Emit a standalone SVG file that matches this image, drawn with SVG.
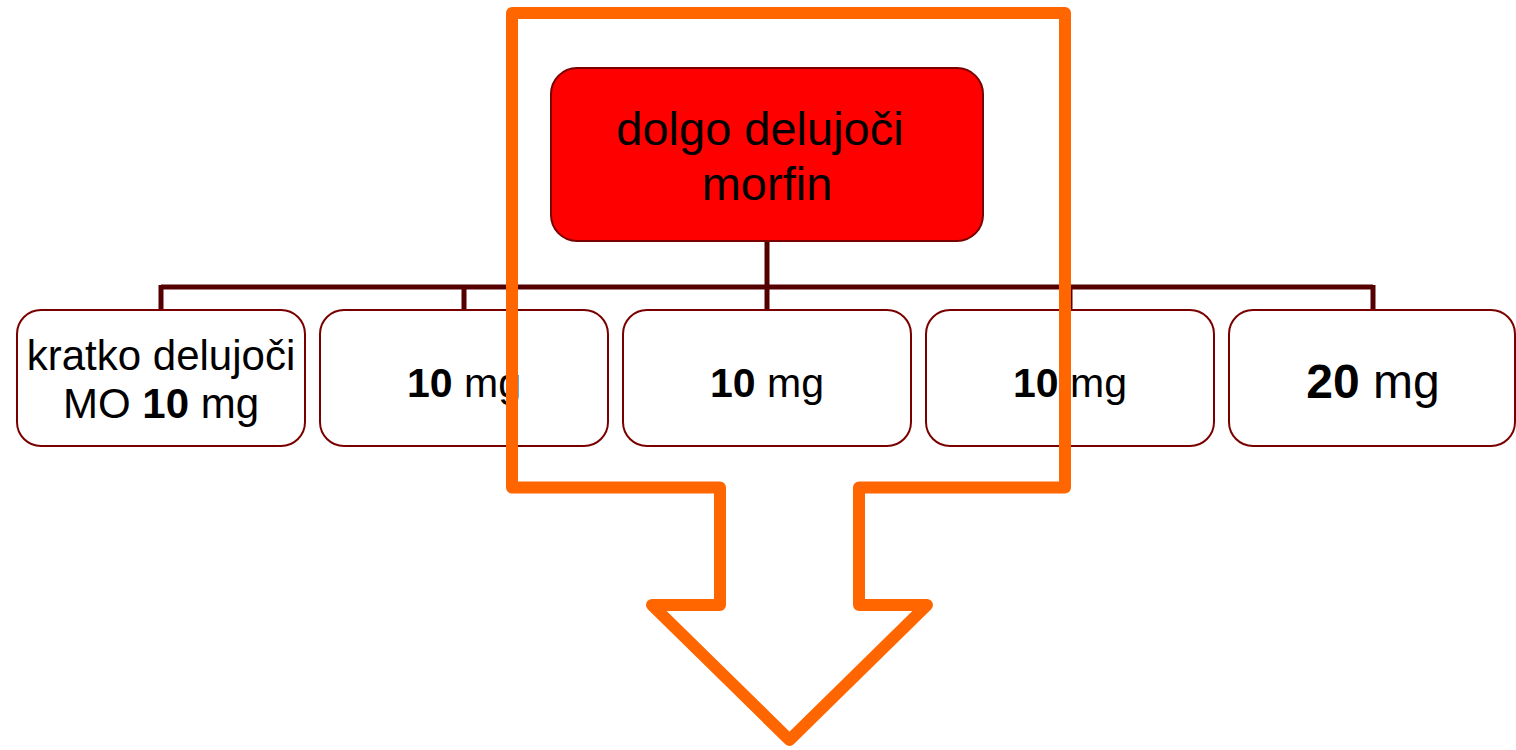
<svg xmlns="http://www.w3.org/2000/svg" width="1516" height="750" viewBox="0 0 1516 750">
<style>
.box{fill:#ffffff;stroke:#7a0000;stroke-width:2}
.top{fill:#ff0000;stroke:#7a0000;stroke-width:2}
.conn{fill:none;stroke:#550000;stroke-width:5}
.t{font-family:"Liberation Sans",Arial,sans-serif;fill:#000;text-anchor:middle}
.b{font-weight:bold}
.arrow{fill:none;stroke:#ff6600;stroke-width:12;stroke-linejoin:round}
</style>
<rect width="1516" height="750" fill="#ffffff"/>
<g id="connectors">
<path class="conn" d="M767 241 V287 M161 287 H1373 M161 285 V310 M464 285 V310 M767 285 V310 M1070 285 V310 M1373 285 V310"/>
</g>
<g id="node-top">
<rect class="top" x="551" y="68" width="432" height="173" rx="26"/>
<text class="t" x="760" y="145" font-size="47">dolgo delujoči</text>
<text class="t" x="767" y="200" font-size="47">morfin</text>
</g>
<g id="node-1">
<rect class="box" x="17" y="310" width="288" height="136" rx="24"/>
<text class="t" x="161" y="370" font-size="42">kratko delujoči</text>
<text class="t" x="161" y="418" font-size="42">MO <tspan class="b">10</tspan> mg</text>
</g>
<g id="node-2">
<rect class="box" x="320" y="310" width="288" height="136" rx="24"/>
<text class="t" x="464" y="397" font-size="41"><tspan class="b">10</tspan> mg</text>
</g>
<g id="node-3">
<rect class="box" x="623" y="310" width="288" height="136" rx="24"/>
<text class="t" x="767" y="397" font-size="41"><tspan class="b">10</tspan> mg</text>
</g>
<g id="node-4">
<rect class="box" x="926" y="310" width="288" height="136" rx="24"/>
<text class="t" x="1070" y="397" font-size="41"><tspan class="b">10</tspan> mg</text>
</g>
<g id="node-5">
<rect class="box" x="1229" y="310" width="286" height="136" rx="24"/>
<text class="t" x="1373" y="398" font-size="48"><tspan class="b">20</tspan> mg</text>
</g>
<g id="arrow">
<path class="arrow" d="M512 13 L1065 13 L1065 487.5 L859 487.5 L859 605 L927 605 L789.5 740 L652 605 L720 605 L720 487.5 L512 487.5 Z"/>
</g>
</svg>
